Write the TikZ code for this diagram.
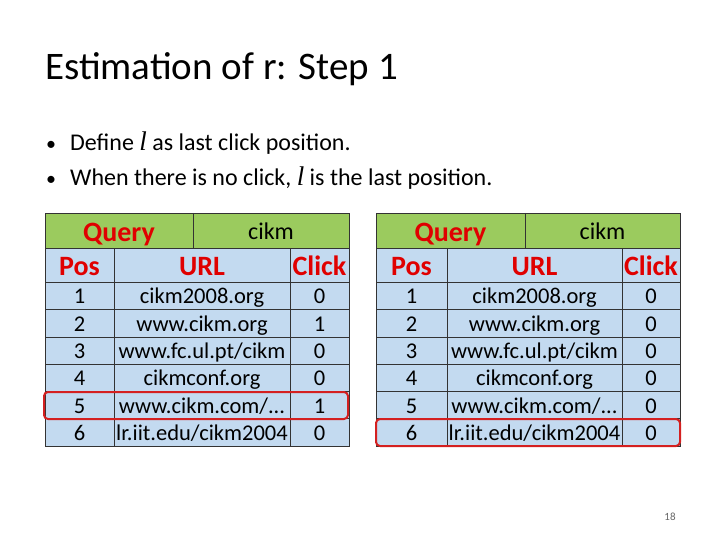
\documentclass[tikz,border=0pt]{standalone}
\usepackage{fontspec}
\setmainfont{Carlito}
\newfontfamily\lfont{Liberation Serif}
\definecolor{hdrgreen}{HTML}{9BCB5E}
\definecolor{cellblue}{HTML}{C3DAF0}
\definecolor{hred}{HTML}{E00000}
\definecolor{boxred}{HTML}{D42020}
\newcommand{\lvar}{{\lfont\itshape l}}
\begin{document}
\begin{tikzpicture}[x=1pt,y=-1pt,
  cellt/.style={font=\fontsize{22.5}{22.5}\selectfont, anchor=base, inner sep=0},
  hdrt/.style={font=\fontsize{28}{28}\selectfont\bfseries, text=hred, anchor=base, inner sep=0},
  grid/.style={draw=black!80, line width=0.6pt},
  hl/.style={draw=boxred, line width=2pt, rounded corners=4pt}]
\useasboundingbox (0,0) rectangle (720,540);
\node[anchor=base west, inner sep=0, font=\fontsize{39}{39}\selectfont] (title) at (45,80) {Estimation of r: Step 1};
\node[anchor=base west, inner sep=0, font=\fontsize{20}{20}\selectfont] (b1) at (46,151) {•};
\node[anchor=base west, inner sep=0, font=\fontsize{24}{24}\selectfont] (t1) at (70,151) {Define {\fontsize{27}{27}\selectfont\lvar} as last click position.};
\node[anchor=base west, inner sep=0, font=\fontsize{20}{20}\selectfont] (b2) at (46,186) {•};
\node[anchor=base west, inner sep=0, font=\fontsize{24}{24}\selectfont] (t2) at (70,186) {When there is no click, {\fontsize{27}{27}\selectfont\lvar} is the last position.};
\newcommand{\mytable}[7]{%
 \fill[hdrgreen] (#1,213) rectangle (#4,248);
 \fill[cellblue] (#1,248) rectangle (#4,446);
 \foreach \y in {248,282,309,337,364,391,418} \draw[grid] (#1,\y) -- (#4,\y);
 \draw[grid] (#1,213) rectangle (#4,446);
 \draw[grid] (#5,213) -- (#5,248);
 \draw[grid] (#2,248) -- (#2,446);
 \draw[grid] (#3,248) -- (#3,446);
 \node[hdrt] (#6q) at ({(#1+#5)/2},241) {Query};
 \node[cellt, font=\fontsize{24}{24}\selectfont] (#6c) at ({(#5+#4)/2},240) {cikm};
 \node[hdrt] (#6p) at ({(#1+#2)/2},275) {Pos};
 \node[hdrt] (#6u) at ({(#2+#3)/2},275) {URL};
 \node[hdrt] (#6k) at ({(#3+#4)/2},275) {Click};
 \foreach \i/\u/\c [count=\n] in {#7} {
   \node[cellt] (#6p\n) at ({(#1+#2)/2},{282+27.3*\n-5.5}) {\i};
   \node[cellt] (#6u\n) at ({(#2+#3)/2},{282+27.3*\n-5.5}) {\u};
   \node[cellt] (#6k\n) at ({(#3+#4)/2},{282+27.3*\n-5.5}) {\c};
 }
}
\mytable{45}{114}{290}{349}{193}{L}{1/{cikm2008.org}/0,2/{www.cikm.org}/1,3/{www.fc.ul.pt/cikm}/0,4/{cikmconf.org}/0,5/{www.cikm.com/...}/1,6/{lr.iit.edu/cikm2004}/0}
\mytable{376}{447}{622}{680}{525}{R}{1/{cikm2008.org}/0,2/{www.cikm.org}/0,3/{www.fc.ul.pt/cikm}/0,4/{cikmconf.org}/0,5/{www.cikm.com/...}/0,6/{lr.iit.edu/cikm2004}/0}
\draw[hl] (44,392) rectangle (348,419);
\draw[hl] (376,419) rectangle (680,446);
\node[anchor=base, inner sep=0, font=\fontsize{11}{11}\selectfont, text=black!60] (pg) at (670,520) {18};
\end{tikzpicture}
\end{document}
